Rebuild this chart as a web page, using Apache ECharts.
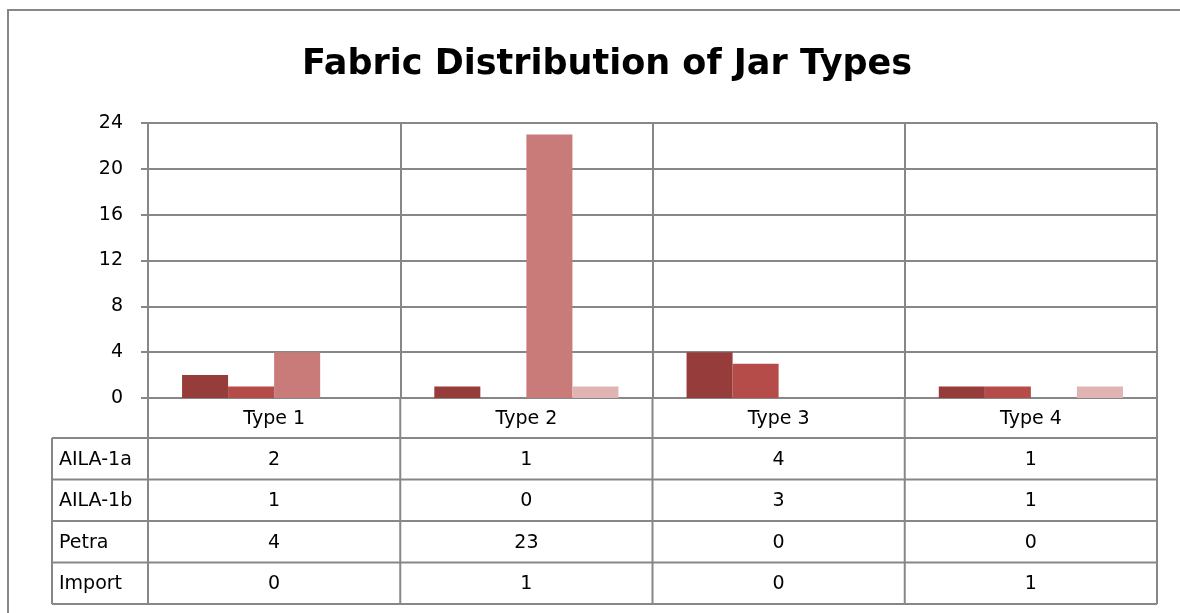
<!DOCTYPE html>
<html>
<head>
<meta charset="utf-8">
<script src="https://cdn.jsdelivr.net/npm/echarts@6/dist/echarts.min.js"></script>
<style>
  html, body { margin: 0; padding: 0; background: #fff; }
  #chart { width: 1180px; height: 613px; }
</style>
</head>
<body>
<div id="chart"></div>
<script>
// Jar types along the category axis
const categories = ['Type 1', 'Type 2', 'Type 3', 'Type 4'];
// Fabric groups, one series each
const aila1a = [2, 1, 4, 1];
const aila1b = [1, 0, 3, 1];
const petra = [4, 23, 0, 0];
const importFabric = [0, 1, 0, 1];
const fabricNames = ['AILA-1a', 'AILA-1b', 'Petra', 'Import'];
const fabricValues = [aila1a, aila1b, petra, importFabric];
// Value axis range
const yMin = 0, yMax = 24, yStep = 4;

const colors = ['#963c3a', '#b54c49', '#c97b7a', '#e0b4b3'];
const lineColor = '#878787';
const font = '"DejaVu Sans", sans-serif';

// Plot frame and data table geometry
const W = 1180, H = 613;
const plotL = 148, plotR = 1157, plotT = 123, plotB = 398;
const headL = 52;
const catRowB = 438;
const rowH = 41.5;
const catW = (plotR - plotL) / categories.length;

const chart = echarts.init(document.getElementById('chart'), null, { renderer: 'canvas' });

const graphics = [];
// outer chart frame
graphics.push({
  type: 'rect', shape: { x: 8, y: 10, width: 1300, height: 800 },
  style: { fill: 'none', stroke: lineColor, lineWidth: 2 }, silent: true, z: 0
});
function hLine(x1, x2, y) {
  graphics.push({ type: 'line', shape: { x1, y1: y, x2, y2: y },
    style: { stroke: lineColor, lineWidth: 2 }, silent: true, z: 5 });
}
function vLine(x, y1, y2) {
  graphics.push({ type: 'line', shape: { x1: x, y1, x2: x, y2 },
    style: { stroke: lineColor, lineWidth: 2 }, silent: true, z: 5 });
}
function text(str, x, y, align) {
  graphics.push({ type: 'text', x, y, silent: true, z: 6,
    style: { text: str, fill: '#000', font: '19px ' + font,
      textAlign: align, textVerticalAlign: 'middle' } });
}
const tableB = catRowB + rowH * fabricNames.length;
// table horizontal rules
for (let r = 0; r <= fabricNames.length; r++) {
  hLine(headL, plotR, catRowB + rowH * r);
}
// table vertical rules: header column plus category boundaries
vLine(headL, catRowB, tableB);
for (let c = 0; c <= categories.length; c++) {
  vLine(plotL + catW * c, plotB, tableB);
}
// category names
categories.forEach((cat, c) => text(cat, plotL + catW * (c + 0.5), (plotB + catRowB) / 2 + 1, 'center'));
// row headers and values
fabricNames.forEach((name, r) => {
  const yc = catRowB + rowH * (r + 0.5) + 1;
  text(name, headL + 7, yc, 'left');
  fabricValues[r].forEach((v, c) => text(String(v), plotL + catW * (c + 0.5), yc, 'center'));
});

const option = {
  animation: false,
  backgroundColor: '#fff',
  title: {
    text: 'Fabric Distribution of Jar Types',
    left: 602, top: 42, textAlign: 'center',
    textStyle: { fontFamily: font, fontWeight: 'bold', fontSize: 35, color: '#000' }
  },
  grid: { left: plotL, right: W - plotR, top: plotT, bottom: H - plotB, containLabel: false },
  xAxis: {
    type: 'category', data: categories,
    axisLine: { show: true, lineStyle: { color: lineColor, width: 2 } },
    axisTick: { show: false },
    axisLabel: { show: false },
    splitLine: { show: true, lineStyle: { color: lineColor, width: 2 } }
  },
  yAxis: {
    type: 'value', min: yMin, max: yMax, interval: yStep,
    axisLine: { show: true, lineStyle: { color: lineColor, width: 2 } },
    axisTick: { show: true, length: 7, lineStyle: { color: lineColor, width: 2 } },
    axisLabel: { margin: 25, color: '#000', fontFamily: font, fontSize: 19 },
    splitLine: { show: true, lineStyle: { color: lineColor, width: 2 } }
  },
  series: fabricNames.map((name, i) => ({
    name, type: 'bar', data: fabricValues[i],
    barGap: '0%', barCategoryGap: '27%',
    itemStyle: { color: colors[i] },
    z: 3
  })),
  graphic: graphics
};
chart.setOption(option);
</script>
</body>
</html>
